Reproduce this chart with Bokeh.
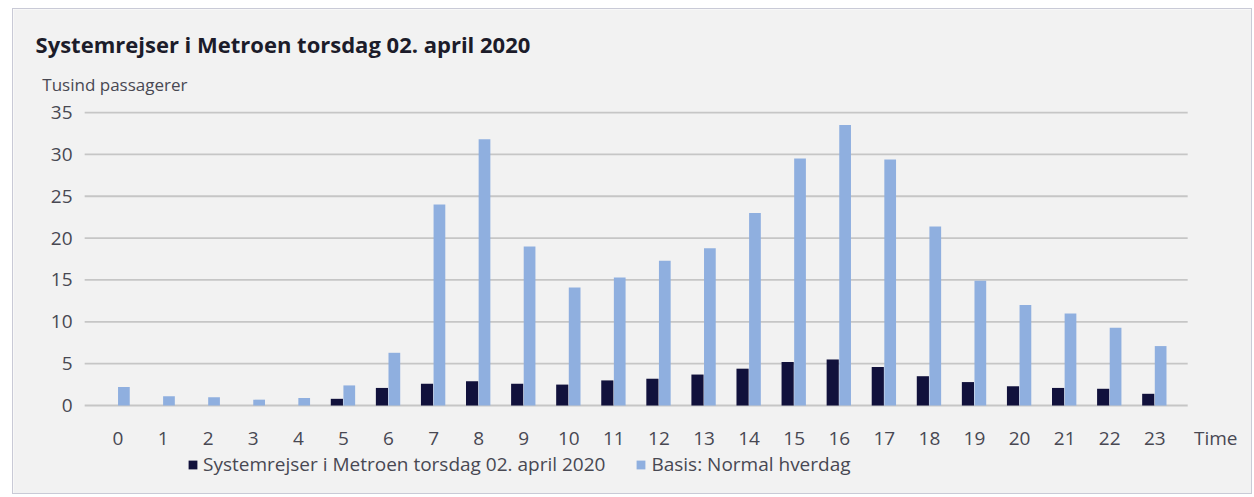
from bokeh.plotting import figure
from bokeh.models import Range1d, Legend, LegendItem, ColumnDataSource
from bokeh.core.properties import value
from bokeh.transform import dodge
from bokeh.embed import file_html
from bokeh.resources import INLINE

# ---- data ----
hours = list(range(24))
hour_labels = [str(h) for h in hours]
metro_2020_04_02 = [0, 0, 0, 0, 0, 0.8, 2.1, 2.6, 2.9, 2.6, 2.5, 3.0,
                    3.2, 3.7, 4.4, 5.2, 5.5, 4.6, 3.5, 2.8, 2.3, 2.1, 2.0, 1.4]
basis_normal = [2.2, 1.1, 1.0, 0.7, 0.9, 2.4, 6.3, 24.0, 31.8, 19.0, 14.1, 15.3,
                17.3, 18.8, 23.0, 29.5, 33.5, 29.4, 21.4, 14.9, 12.0, 11.0, 9.3, 7.1]
y_ticks = [0, 5, 10, 15, 20, 25, 30, 35]
y_tick_labels = [str(v) for v in y_ticks]

title_text = "Systemrejser i Metroen torsdag 02. april 2020"
y_title = "Tusind passagerer"
x_title = "Time"
series_names = ["Systemrejser i Metroen torsdag 02. april 2020", "Basis: Normal hverdag"]

FONT = "Open Sans"
BG = "#f2f2f2"
DARK = "#11113c"
LIGHT = "#8fafdf"
TXT = "#484852"

# layout constants (data units of the frame)
X0, X1 = -2.319, 25.19
Y0, Y1 = -10.75, 47.31
GRID_X0, GRID_X1 = -0.74, 23.73
YLAB_X = -1.01
XLAB_Y = -3.94

src = ColumnDataSource(dict(hour=hours, metro=metro_2020_04_02, basis=basis_normal,
                            hlab=hour_labels))
ysrc = ColumnDataSource(dict(y=y_ticks, lab=y_tick_labels))

p = figure(width=1240, height=486,
           x_range=Range1d(X0, X1), y_range=Range1d(Y0, Y1),
           x_axis_location=None, y_axis_location=None,
           output_backend="svg", toolbar_location=None,
           min_border=0, min_border_left=0, min_border_right=0,
           min_border_top=0, min_border_bottom=0,
           background_fill_color=BG, border_fill_color=BG, outline_line_color=None,
           margin=(8, 0, 0, 12), styles={"border": "1px solid #c9cad6"})
p.xgrid.grid_line_color = None
p.ygrid.grid_line_color = None

# grid lines at y ticks
p.segment(x0=GRID_X0, x1=GRID_X1, y0="y", y1="y", source=ysrc,
          line_color="#c6c6c6", line_width=1.8)

r1 = p.vbar(x=dodge("hour", -0.145, range=p.x_range), top="metro", bottom=0, width=0.27,
            source=src, fill_color=DARK, line_color=None)
r2 = p.vbar(x=dodge("hour", 0.13, range=p.x_range), top="basis", bottom=0, width=0.26,
            source=src, fill_color=LIGHT, line_color=None)

# tick labels
p.text(x="hour", y=XLAB_Y, text="hlab", source=src, text_font=value(FONT),
       text_font_size="19px", text_color=TXT, text_align="center", text_baseline="middle")
p.text(x=YLAB_X, y="y", text="lab", source=ysrc, text_font=value(FONT),
       text_font_size="19px", text_color=TXT, text_align="right", text_baseline="middle")
p.text(x=[23.87], y=[XLAB_Y], text=[x_title], text_font=value(FONT),
       text_font_size="19px", text_color=TXT, text_align="left", text_baseline="middle")

# titles
p.text(x=[-1.83], y=[43.24], text=[title_text], text_font=value(FONT), text_font_size="22px",
       text_font_style="bold", text_color="#1c1c2a", text_baseline="alphabetic")
p.text(x=[-1.68], y=[38.35], text=[y_title], text_font=value(FONT), text_font_size="17px",
       text_color=TXT, text_baseline="alphabetic")

legend = Legend(items=[LegendItem(label=series_names[0], renderers=[r1]),
                       LegendItem(label=series_names[1], renderers=[r2])],
                orientation="horizontal", location=(174, 18),
                glyph_width=11, glyph_height=11, label_standoff=5, spacing=30,
                padding=2, margin=0, border_line_color=None, background_fill_alpha=0,
                label_text_font=FONT, label_text_font_size="19px", label_text_color=TXT)
p.add_layout(legend, "center")

open("out.html", "w").write(file_html(p, INLINE))
